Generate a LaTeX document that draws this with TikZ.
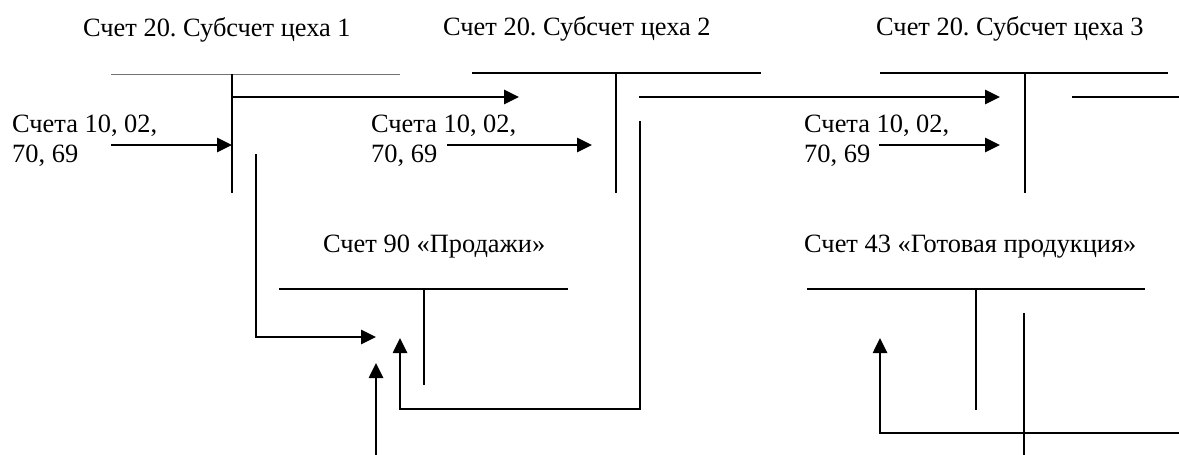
\documentclass[tikz,border=0pt]{standalone}
\usepackage{fontspec}
\setmainfont{Liberation Serif}
\usetikzlibrary{arrows.meta}
\frenchspacing
\begin{document}
\begin{tikzpicture}[x=1pt,y=-1pt,
  lbl/.style={anchor=base west,inner sep=0pt,font=\fontsize{26.4}{30}\selectfont},
  tline/.style={line width=1.6pt},
  thinline/.style={line width=1pt,black!55},
  plain/.style={line width=2.2pt},
  flow/.style={line width=2.6pt,-{Triangle[length=15pt,width=14pt]}}]
\useasboundingbox (0,0) rectangle (1179,455);
% titles
\node[lbl] (t1) at (83,36) {Счет 20. Субсчет цеха 1};
\node[lbl] (t2) at (443,35) {Счет 20. Субсчет цеха 2};
\node[lbl] (t3) at (876,35) {Счет 20. Субсчет цеха 3};
\node[lbl] (t90) at (323,252) {Счет 90 «Продажи»};
\node[lbl] (t43) at (804,252) {Счет 43 «Готовая продукция»};
% input labels
\node[lbl] (in1a) at (12,132) {Счета 10, 02,};
\node[lbl] (in1b) at (12,162) {70, 69};
\node[lbl] (in2a) at (371,132) {Счета 10, 02,};
\node[lbl] (in2b) at (371,162) {70, 69};
\node[lbl] (in3a) at (804,132) {Счета 10, 02,};
\node[lbl] (in3b) at (804,162) {70, 69};
% T-account coordinates
\coordinate (a1l) at (111,74); \coordinate (a1r) at (400,74);
\coordinate (a1t) at (232,74); \coordinate (a1b) at (232,193);
\coordinate (a2l) at (472,73); \coordinate (a2r) at (761,73);
\coordinate (a2t) at (616,73); \coordinate (a2b) at (616,193);
\coordinate (a3l) at (880,73); \coordinate (a3r) at (1168,73);
\coordinate (a3t) at (1025,73); \coordinate (a3b) at (1025,193);
\coordinate (s90l) at (279,289); \coordinate (s90r) at (568,289);
\coordinate (s90t) at (424,289); \coordinate (s90b) at (424,385);
\coordinate (s43l) at (807,289); \coordinate (s43r) at (1145,289);
\coordinate (s43t) at (976,289); \coordinate (s43b) at (976,410);
% T-accounts
\draw[thinline] (a1l) -- (a1r);
\draw[tline] (a1t) -- (a1b);
\draw[tline] (a2l) -- (a2r);
\draw[tline] (a2t) -- (a2b);
\draw[tline] (a3l) -- (a3r);
\draw[tline] (a3t) -- (a3b);
\draw[tline] (s90l) -- (s90r);
\draw[tline] (s90t) -- (s90b);
\draw[tline] (s43l) -- (s43r);
\draw[tline] (s43t) -- (s43b);
% input arrows
\coordinate (i1s) at (111,145); \coordinate (i1e) at (232,145);
\coordinate (i2s) at (447,145); \coordinate (i2e) at (592,145);
\coordinate (i3s) at (879,145); \coordinate (i3e) at (1000,145);
\draw[flow] (i1s) -- (i1e);
\draw[flow] (i2s) -- (i2e);
\draw[flow] (i3s) -- (i3e);
% transfers between workshops
\coordinate (o1s) at (232,97); \coordinate (o1e) at (519,97);
\coordinate (o2s) at (639,97); \coordinate (o2e) at (1000,97);
\coordinate (o3s) at (1072,97); \coordinate (o3e) at (1179,97);
\draw[flow] (o1s) -- (o1e);
\draw[flow] (o2s) -- (o2e);
\draw[plain] (o3s) -- (o3e);
% to account 90
\coordinate (c1s) at (256,154); \coordinate (c1k) at (256,337); \coordinate (c1e) at (376,337);
\draw[flow] (c1s) -- (c1k) -- (c1e);
\coordinate (c0s) at (376,455); \coordinate (c0e) at (376,363);
\draw[flow] (c0s) -- (c0e);
\coordinate (c2s) at (640,121); \coordinate (c2k) at (640,409); \coordinate (c2m) at (400,409); \coordinate (c2e) at (400,338);
\draw[flow] (c2s) -- (c2k) -- (c2m) -- (c2e);
% to account 43
\coordinate (c3s) at (1179,433); \coordinate (c3k) at (880,433); \coordinate (c3e) at (880,338);
\draw[flow] (c3s) -- (c3k) -- (c3e);
\coordinate (v3t) at (1024,313); \coordinate (v3b) at (1024,455);
\draw[plain] (v3t) -- (v3b);
\end{tikzpicture}
\end{document}
